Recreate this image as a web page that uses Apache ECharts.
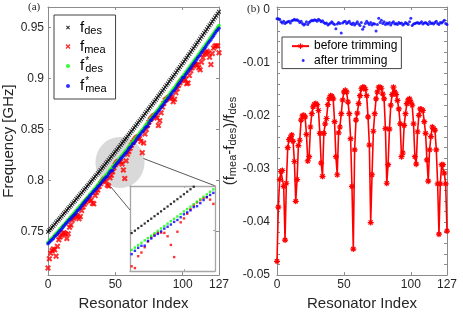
<!DOCTYPE html>
<html><head><meta charset="utf-8">
<script src="https://cdn.jsdelivr.net/npm/echarts@6/dist/echarts.min.js"></script>
<style>html,body{margin:0;padding:0;background:#fff}#c{width:463px;height:316px}</style>
</head><body><div id="c"></div>
<script>
// ---------- data ----------
const fDes = [0.7495,0.7510,0.7525,0.7540,0.7555,0.7570,0.7585,0.7600,0.7615,0.7631,
0.7646,0.7661,0.7676,0.7692,0.7707,0.7723,0.7738,0.7753,0.7769,0.7784,
0.7800,0.7816,0.7831,0.7847,0.7862,0.7878,0.7894,0.7910,0.7925,0.7941,
0.7957,0.7973,0.7989,0.8005,0.8021,0.8037,0.8053,0.8069,0.8085,0.8101,
0.8117,0.8133,0.8149,0.8166,0.8182,0.8198,0.8215,0.8231,0.8247,0.8264,
0.8280,0.8297,0.8313,0.8330,0.8347,0.8363,0.8380,0.8397,0.8413,0.8430,
0.8447,0.8464,0.8481,0.8498,0.8515,0.8532,0.8549,0.8566,0.8583,0.8600,
0.8617,0.8634,0.8652,0.8669,0.8686,0.8704,0.8721,0.8738,0.8756,0.8773,
0.8791,0.8808,0.8826,0.8843,0.8861,0.8879,0.8896,0.8914,0.8932,0.8950,
0.8968,0.8986,0.9003,0.9021,0.9039,0.9057,0.9076,0.9094,0.9112,0.9130,
0.9148,0.9166,0.9185,0.9203,0.9222,0.9240,0.9258,0.9277,0.9295,0.9314,
0.9332,0.9351,0.9370,0.9388,0.9407,0.9426,0.9445,0.9463,0.9482,0.9501,
0.9520,0.9539,0.9558,0.9577,0.9596,0.9615,0.9635,0.9654];

const fMea = [0.7140,0.7231,0.7284,0.7310,0.7326,0.7318,0.7256,0.7352,0.7417,0.7444,
0.7462,0.7480,0.7486,0.7472,0.7429,0.7476,0.7540,0.7562,0.7607,0.7628,
0.7645,0.7658,0.7647,0.7623,0.7644,0.7704,0.7739,0.7765,0.7784,0.7800,
0.7815,0.7821,0.7803,0.7774,0.7769,0.7850,0.7880,0.7904,0.7940,0.7965,
0.7986,0.8000,0.8012,0.7994,0.7955,0.7943,0.8024,0.8049,0.8085,0.8124,
0.8152,0.8171,0.8184,0.8185,0.8183,0.8160,0.8101,0.8018,0.8191,0.8255,
0.8282,0.8314,0.8344,0.8371,0.8391,0.8407,0.8421,0.8427,0.8410,0.8381,
0.8271,0.8366,0.8454,0.8499,0.8540,0.8569,0.8594,0.8610,0.8626,0.8634,
0.8643,0.8611,0.8537,0.8585,0.8662,0.8719,0.8754,0.8784,0.8794,0.8807,
0.8815,0.8818,0.8809,0.8771,0.8795,0.8860,0.8898,0.8933,0.8957,0.8977,
0.8989,0.9001,0.8988,0.8948,0.8954,0.9028,0.9074,0.9104,0.9120,0.9137,
0.9135,0.9133,0.9105,0.9085,0.9159,0.9201,0.9236,0.9251,0.9267,0.9250,
0.9208,0.9135,0.9245,0.9297,0.9316,0.9319,0.9319,0.9251];

const fDesStar = [0.7390,0.7405,0.7420,0.7434,0.7449,0.7464,0.7479,0.7493,0.7508,0.7524,
0.7539,0.7554,0.7568,0.7584,0.7599,0.7615,0.7629,0.7644,0.7660,0.7675,
0.7690,0.7706,0.7721,0.7737,0.7752,0.7767,0.7783,0.7799,0.7813,0.7829,
0.7845,0.7861,0.7877,0.7893,0.7908,0.7924,0.7940,0.7956,0.7972,0.7987,
0.8003,0.8019,0.8035,0.8052,0.8067,0.8083,0.8100,0.8116,0.8132,0.8148,
0.8164,0.8181,0.8197,0.8213,0.8230,0.8246,0.8263,0.8279,0.8295,0.8312,
0.8329,0.8346,0.8362,0.8379,0.8396,0.8413,0.8429,0.8446,0.8463,0.8480,
0.8496,0.8513,0.8531,0.8548,0.8564,0.8582,0.8599,0.8616,0.8633,0.8650,
0.8668,0.8685,0.8702,0.8719,0.8737,0.8755,0.8771,0.8789,0.8807,0.8825,
0.8842,0.8860,0.8877,0.8895,0.8912,0.8930,0.8949,0.8967,0.8984,0.9002,
0.9020,0.9038,0.9056,0.9074,0.9093,0.9111,0.9128,0.9147,0.9165,0.9184,
0.9201,0.9220,0.9239,0.9257,0.9275,0.9294,0.9313,0.9331,0.9349,0.9368,
0.9387,0.9405,0.9424,0.9443,0.9462,0.9480,0.9500,0.9519];

const fMeaStar = [0.7377,0.7392,0.7407,0.7417,0.7430,0.7448,0.7460,0.7475,0.7491,0.7507,
0.7520,0.7538,0.7553,0.7570,0.7584,0.7600,0.7613,0.7626,0.7643,0.7655,
0.7668,0.7685,0.7703,0.7715,0.7733,0.7750,0.7767,0.7783,0.7798,0.7813,
0.7828,0.7847,0.7861,0.7875,0.7891,0.7905,0.7919,0.7936,0.7949,0.7965,
0.7983,0.8001,0.8014,0.8029,0.8038,0.8061,0.8081,0.8095,0.8096,0.8128,
0.8145,0.8163,0.8176,0.8193,0.8212,0.8225,0.8240,0.8258,0.8271,0.8290,
0.8310,0.8323,0.8337,0.8359,0.8365,0.8386,0.8407,0.8427,0.8442,0.8456,
0.8476,0.8488,0.8509,0.8525,0.8530,0.8558,0.8585,0.8595,0.8616,0.8628,
0.8648,0.8661,0.8680,0.8695,0.8716,0.8730,0.8749,0.8769,0.8783,0.8802,
0.8817,0.8839,0.8854,0.8873,0.8886,0.8906,0.8927,0.8944,0.8959,0.8981,
0.9006,0.9011,0.9032,0.9050,0.9070,0.9089,0.9104,0.9124,0.9144,0.9159,
0.9178,0.9198,0.9215,0.9231,0.9254,0.9270,0.9290,0.9306,0.9327,0.9347,
0.9363,0.9379,0.9401,0.9419,0.9440,0.9461,0.9475,0.9492];

const beforeTrim = [-0.0474,-0.0372,-0.0320,-0.0305,-0.0303,-0.0333,-0.0434,-0.0327,-0.0260,-0.0245,
-0.0241,-0.0236,-0.0248,-0.0286,-0.0361,-0.0320,-0.0256,-0.0246,-0.0208,-0.0200,
-0.0199,-0.0202,-0.0235,-0.0285,-0.0277,-0.0221,-0.0196,-0.0183,-0.0178,-0.0177,
-0.0179,-0.0190,-0.0233,-0.0289,-0.0314,-0.0233,-0.0215,-0.0205,-0.0179,-0.0168,
-0.0162,-0.0163,-0.0168,-0.0211,-0.0277,-0.0311,-0.0232,-0.0221,-0.0196,-0.0170,
-0.0155,-0.0152,-0.0155,-0.0174,-0.0196,-0.0243,-0.0333,-0.0451,-0.0264,-0.0208,
-0.0195,-0.0177,-0.0162,-0.0149,-0.0146,-0.0146,-0.0150,-0.0162,-0.0202,-0.0255,
-0.0401,-0.0311,-0.0229,-0.0196,-0.0168,-0.0155,-0.0146,-0.0146,-0.0148,-0.0159,
-0.0168,-0.0224,-0.0327,-0.0292,-0.0225,-0.0180,-0.0160,-0.0146,-0.0155,-0.0160,
-0.0171,-0.0187,-0.0215,-0.0277,-0.0270,-0.0218,-0.0196,-0.0177,-0.0170,-0.0168,
-0.0174,-0.0180,-0.0215,-0.0277,-0.0291,-0.0230,-0.0199,-0.0187,-0.0188,-0.0190,
-0.0211,-0.0233,-0.0283,-0.0323,-0.0264,-0.0239,-0.0221,-0.0224,-0.0227,-0.0264,
-0.0328,-0.0423,-0.0328,-0.0292,-0.0292,-0.0308,-0.0328,-0.0417];

const afterTrim = [-0.0017,-0.0017,-0.0018,-0.0023,-0.0025,-0.0022,-0.0026,-0.0024,-0.0023,-0.0022,
-0.0025,-0.0021,-0.0020,-0.0018,-0.0020,-0.0019,-0.0021,-0.0024,-0.0022,-0.0026,
-0.0029,-0.0027,-0.0023,-0.0028,-0.0024,-0.0022,-0.0020,-0.0021,-0.0019,-0.0020,
-0.0022,-0.0018,-0.0020,-0.0023,-0.0021,-0.0024,-0.0026,-0.0025,-0.0029,-0.0027,
-0.0025,-0.0023,-0.0026,-0.0028,-0.0036,-0.0027,-0.0024,-0.0026,-0.0044,-0.0025,
-0.0023,-0.0022,-0.0026,-0.0024,-0.0022,-0.0026,-0.0028,-0.0025,-0.0029,-0.0026,
-0.0023,-0.0027,-0.0030,-0.0024,-0.0037,-0.0032,-0.0026,-0.0022,-0.0025,-0.0028,
-0.0024,-0.0029,-0.0026,-0.0027,-0.0040,-0.0028,-0.0016,-0.0024,-0.0020,-0.0026,
-0.0023,-0.0028,-0.0025,-0.0027,-0.0024,-0.0029,-0.0025,-0.0023,-0.0027,-0.0026,
-0.0028,-0.0024,-0.0026,-0.0025,-0.0029,-0.0027,-0.0024,-0.0026,-0.0028,-0.0023,
-0.0016,-0.0030,-0.0027,-0.0026,-0.0025,-0.0024,-0.0026,-0.0025,-0.0023,-0.0027,
-0.0025,-0.0024,-0.0026,-0.0028,-0.0023,-0.0026,-0.0025,-0.0027,-0.0024,-0.0022,
-0.0026,-0.0028,-0.0024,-0.0025,-0.0023,-0.0020,-0.0026,-0.0028];

const xTicks = [0, 50, 100, 127];
const yTicksA = [0.75, 0.8, 0.85, 0.9, 0.95];
const yTicksB = [-0.05, -0.04, -0.03, -0.02, -0.01, 0];
const yMinorTicksB = [-0.05,-0.048,-0.046,-0.044,-0.042,-0.04,-0.038,-0.036,-0.034,-0.032,-0.03,
  -0.028,-0.026,-0.024,-0.022,-0.02,-0.018,-0.016,-0.014,-0.012,-0.01,-0.008,-0.006,-0.004,-0.002,0];
const insetXTicks = [60];
const insetYTicks = [0.82];

// ---------- chart ----------
const chart = echarts.init(document.getElementById('c'), null, {renderer: 'canvas', width: 463, height: 316});
const FONT = '"Liberation Sans", Arial, sans-serif';
const AX = '#8c8c8c', TXT = '#262626';
const idx = fDes.map((_, i) => i);
const pairs = arr => arr.map((v, i) => [idx[i], v]);

const XM = 'path://M0,1.6L1.6,0L5,3.4L8.4,0L10,1.6L6.6,5L10,8.4L8.4,10L5,6.6L1.6,10L0,8.4L3.4,5Z';
const XB = 'path://M0,2.4L2.4,0L5,2.6L7.6,0L10,2.4L7.4,5L10,7.6L7.6,10L5,7.4L2.4,10L0,7.6L2.6,5Z';
const AST = 'path://M5,0L5,10M0,5L10,5M1.5,1.5L8.5,8.5M8.5,1.5L1.5,8.5';

function xAx(grid, min, max, pos, ticks, labels, extra) {
  return Object.assign({
    gridIndex: grid, type: 'value', min: min, max: max, position: pos,
    axisLine: {show: true, onZero: false, lineStyle: {color: AX, width: 1}},
    axisTick: {show: true, inside: true, length: 3, customValues: ticks, lineStyle: {color: AX}},
    axisLabel: labels ? {show: true, customValues: labels, color: TXT, fontSize: 12, fontFamily: FONT, margin: 4} : {show: false},
    splitLine: {show: false}
  }, extra || {});
}
function yAx(grid, min, max, pos, ticks, labels, fmt, margin, extra) {
  return Object.assign({
    gridIndex: grid, type: 'value', min: min, max: max, position: pos,
    axisLine: {show: true, onZero: false, lineStyle: {color: AX, width: 1}},
    axisTick: {show: true, inside: true, length: 3, customValues: ticks, lineStyle: {color: AX}},
    axisLabel: labels ? {show: true, customValues: labels, color: TXT, fontSize: 12, fontFamily: FONT, margin: margin, formatter: fmt} : {show: false},
    splitLine: {show: false}
  }, extra || {});
}
const xName = {name: 'Resonator Index', nameLocation: 'middle', nameGap: 17,
  nameTextStyle: {fontSize: 15, color: TXT, fontFamily: FONT}};

const insetAxisColor = '#a6a6a6';
function insetStyle(ax) {
  ax.axisLine.lineStyle.color = insetAxisColor;
  ax.axisLine.lineStyle.width = 1.3;
  ax.axisTick.lineStyle.color = insetAxisColor;
  ax.axisTick.length = 2;
  return ax;
}

const legendRichA = {
  f: {fontSize: 15, lineHeight: 15, padding: [2, 0, 2, 4], fontFamily: FONT, color: '#000'},
  s: {fontSize: 11, lineHeight: 11, padding: [7, 0, 1, 0], fontFamily: FONT, color: '#000'},
  st: {fontSize: 10, lineHeight: 9, width: 0, padding: [0, 0, 10, 1], fontFamily: FONT, color: '#000'}
};
const legendLabelsA = {
  'f_des': '{f|f}{s|des}',
  'f_mea': '{f|f}{s|mea}',
  'f*_des': '{f|f}{st|*}{s|des}',
  'f*_mea': '{f|f}{st|*}{s|mea}'
};
const ICON_XS = 'path://M0,0M6,6M1,1.8L1.8,1L3,2.2L4.2,1L5,1.8L3.8,3L5,4.2L4.2,5L3,3.8L1.8,5L1,4.2L2.2,3Z';
const ICON_XB = 'path://M0,0M6,6M0.5,1.5L1.5,0.5L3,2L4.5,0.5L5.5,1.5L4,3L5.5,4.5L4.5,5.5L3,4L1.5,5.5L0.5,4.5L2,3Z';
const ICON_DOT = 'path://M0,0M6,6M3,1C4.1,1 5,1.9 5,3C5,4.1 4.1,5 3,5C1.9,5 1,4.1 1,3C1,1.9 1.9,1 3,1Z';
const ICON_DOT_B = 'path://M0,0M17,7M11.2,2C12,2 12.7,2.7 12.7,3.5C12.7,4.3 12,5 11.2,5C10.4,5 9.7,4.3 9.7,3.5C9.7,2.7 10.4,2 11.2,2Z';

const option = {
  animation: false,
  backgroundColor: '#fff',
  grid: [
    {left: 48, top: 7, width: 171, height: 271},
    {left: 277, top: 7, width: 170, height: 271},
    {left: 130, top: 186, width: 85, height: 85, show: true, backgroundColor: '#fff', borderWidth: 0}
  ],
  xAxis: [
    xAx(0, 0, 127, 'bottom', xTicks, xTicks, xName),
    xAx(0, 0, 127, 'top', xTicks, null),
    xAx(1, 0, 127, 'bottom', xTicks, xTicks, xName),
    xAx(1, 0, 127, 'top', xTicks, null),
    insetStyle(xAx(2, 43.5, 69.5, 'bottom', insetXTicks, null)),
    insetStyle(xAx(2, 43.5, 69.5, 'top', insetXTicks, null))
  ],
  yAxis: [
    yAx(0, 0.707, 0.970, 'left', yTicksA, yTicksA, v => String(v), 4,
      {name: 'Frequency [GHz]', nameLocation: 'middle', nameGap: 28, nameRotate: 90,
       nameTextStyle: {fontSize: 15, color: TXT, fontFamily: FONT}}),
    yAx(0, 0.707, 0.970, 'right', yTicksA, null),
    yAx(1, -0.05, 0.0005, 'left', yMinorTicksB, yTicksB, v => (v === 0 ? '0' : v.toFixed(2)), 7,
      {name: '(f{s|mea}-f{s|des})/f{s|des}', nameLocation: 'middle', nameGap: 30, nameRotate: 90,
       nameTextStyle: {fontSize: 15, color: TXT, fontFamily: FONT,
         rich: {s: {fontSize: 11, lineHeight: 11, padding: [7, 0, 0, 0], color: TXT, fontFamily: FONT}}}}),
    yAx(1, -0.05, 0.0005, 'right', yMinorTicksB, null),
    insetStyle(yAx(2, 0.7923, 0.8503, 'left', insetYTicks, null)),
    insetStyle(yAx(2, 0.7923, 0.8503, 'right', insetYTicks, null))
  ],
  legend: [
    {
      left: 54, top: 15, orient: 'vertical', itemWidth: 6, itemHeight: 6, itemGap: 0,
      padding: [3, 9, 3, 11], borderColor: '#404040', borderWidth: 1, backgroundColor: '#fff',
      selectedMode: false,
      data: [
        {name: 'f_des', icon: ICON_XS},
        {name: 'f_mea', icon: ICON_XB},
        {name: 'f*_des', icon: ICON_DOT},
        {name: 'f*_mea', icon: ICON_DOT}
      ],
      formatter: n => legendLabelsA[n],
      textStyle: {fontFamily: FONT, color: '#000', rich: legendRichA}
    },
    {
      left: 282, top: 37, orient: 'vertical', itemWidth: 17, itemHeight: 7, itemGap: 0,
      padding: [2, 4, 1, 9], borderColor: '#404040', borderWidth: 1, backgroundColor: '#fff',
      selectedMode: false,
      data: [
        {name: 'before trimming', itemStyle: {borderColor: '#ff0000', borderWidth: 1}},
        {name: 'after trimming', icon: ICON_DOT_B}
      ],
      textStyle: {fontFamily: FONT, color: '#000', fontSize: 12, lineHeight: 14.3}
    }
  ],
  series: [
    {type: 'scatter', name: 'f_des', xAxisIndex: 0, yAxisIndex: 0, data: pairs(fDes),
     symbol: XM, symbolSize: 4.5, itemStyle: {color: '#000000'}},
    {type: 'scatter', name: 'f_mea', xAxisIndex: 0, yAxisIndex: 0, data: pairs(fMea),
     symbol: XB, symbolSize: 6, itemStyle: {color: '#ff0000'}},
    {type: 'scatter', name: 'f*_des', xAxisIndex: 0, yAxisIndex: 0, data: pairs(fDesStar),
     symbol: 'circle', symbolSize: 3.6, itemStyle: {color: '#00ff00'}},
    {type: 'scatter', name: 'f*_mea', xAxisIndex: 0, yAxisIndex: 0, data: pairs(fMeaStar),
     symbol: 'circle', symbolSize: 3.6, itemStyle: {color: '#0000ff'}},

    {type: 'scatter', name: 'inset f_des', xAxisIndex: 4, yAxisIndex: 4, data: pairs(fDes), clip: true,
     symbol: 'rect', symbolSize: 2.2, itemStyle: {color: '#000000'}, z: 5},
    {type: 'scatter', name: 'inset f_mea', xAxisIndex: 4, yAxisIndex: 4, data: pairs(fMea), clip: true,
     symbol: 'rect', symbolSize: 2.4, itemStyle: {color: '#ff0000'}, z: 5},
    {type: 'scatter', name: 'inset f*_des', xAxisIndex: 4, yAxisIndex: 4, data: pairs(fDesStar), clip: true,
     symbol: 'rect', symbolSize: 2.4, itemStyle: {color: '#00ff00'}, z: 5},
    {type: 'scatter', name: 'inset f*_mea', xAxisIndex: 4, yAxisIndex: 4, data: pairs(fMeaStar), clip: true,
     symbol: 'rect', symbolSize: 2.4, itemStyle: {color: '#0000ff'}, z: 5},

    {type: 'line', name: 'before trimming', xAxisIndex: 2, yAxisIndex: 2, data: pairs(beforeTrim),
     symbol: AST, symbolSize: 6, showSymbol: true,
     lineStyle: {color: '#ff0000', width: 1.6},
     itemStyle: {color: '#ff0000', borderColor: '#ff0000', borderWidth: 1.2}},
    {type: 'scatter', name: 'after trimming', xAxisIndex: 2, yAxisIndex: 2, data: pairs(afterTrim),
     symbol: 'circle', symbolSize: 3, itemStyle: {color: '#0000ff'}}
  ],
  graphic: [
    {type: 'ellipse', shape: {cx: 120, cy: 162.5, rx: 24.5, ry: 25.5}, style: {fill: '#d9d9d9'}, z: 0, silent: true},
    {type: 'line', shape: {x1: 143.5, y1: 158.5, x2: 214.7, y2: 185.7}, style: {stroke: '#595959', lineWidth: 1}, z: 1},
    {type: 'line', shape: {x1: 110.5, y1: 186.5, x2: 130, y2: 210}, style: {stroke: '#595959', lineWidth: 1}, z: 1},
    {type: 'text', left: 28, top: 2, style: {text: '(a)', font: '11px "Liberation Serif"', fill: '#262626'}},
    {type: 'text', left: 247, top: 4, style: {text: '(b)', font: '11px "Liberation Serif"', fill: '#262626'}}
  ]
};
chart.setOption(option);
</script></body></html>
